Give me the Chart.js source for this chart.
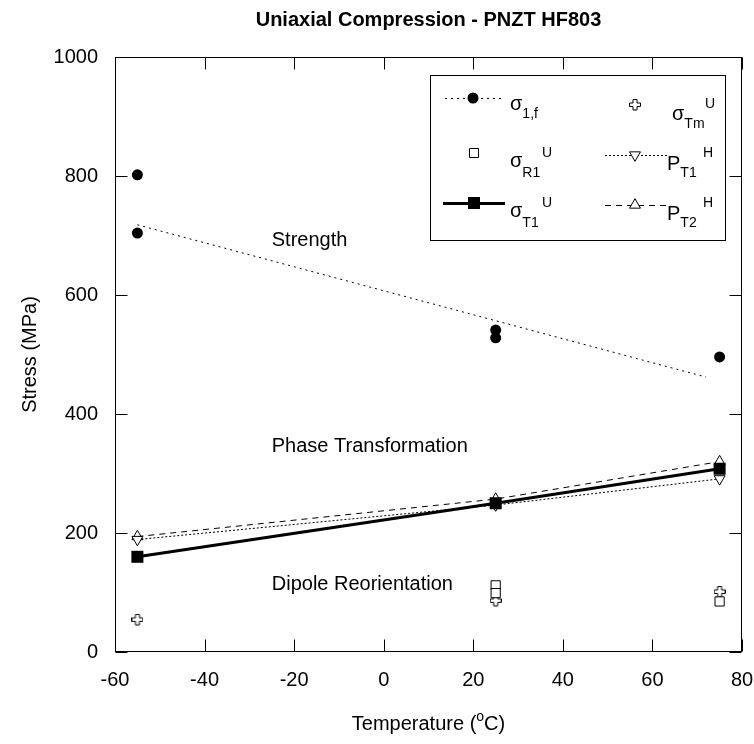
<!DOCTYPE html>
<html><head><meta charset="utf-8">
<script src="https://cdn.jsdelivr.net/npm/chart.js@4.4.0/dist/chart.umd.min.js"></script>
<style>html,body{margin:0;padding:0;background:#fff;}#wrap{width:754px;height:744px;position:relative;}</style>
</head><body><div id="wrap"><canvas id="c" width="754" height="744"></canvas></div>
<script>
// ---- data ----
const xTicks = [-60, -40, -20, 0, 20, 40, 60, 80];
const yTicks = [0, 200, 400, 600, 800, 1000];
const strengthTemps = [-55, -55, 25, 25, 75];
const strengthVals = [802, 704, 541, 528, 496];
const strengthFitTemps = [-55, 72];
const strengthFitVals = [718, 462];
const r1Temps = [25, 25, 75];
const r1Vals = [112, 99, 85];
const tmTemps = [-55, 25, 75];
const tmVals = [54, 86, 101];
const t1Temps = [-55, 25, 75];
const t1Vals = [160, 250, 308];
const pT1Temps = [-55, 25, 75];
const pT1Vals = [189, 247, 291];
const pT2Temps = [-55, 25, 75];
const pT2Vals = [194, 257, 320];
const titleText = 'Uniaxial Compression - PNZT HF803';
const yTitle = 'Stress (MPa)';
const noteTexts = ['Strength', 'Phase Transformation', 'Dipole Reorientation'];

const zip = (xs, ys) => xs.map((x, i) => ({x: x, y: ys[i]}));
const FONT = '"Liberation Sans", Arial, sans-serif';

function plusCanvas() {
  const c = document.createElement('canvas');
  c.width = 12; c.height = 12;
  const g = c.getContext('2d');
  g.translate(0.5, 0.5);
  g.beginPath();
  g.moveTo(3.5, 0); g.lineTo(7.5, 0); g.lineTo(7.5, 3.5); g.lineTo(11, 3.5); g.lineTo(11, 7); g.lineTo(7.5, 7);
  g.lineTo(7.5, 10.5); g.lineTo(3.5, 10.5); g.lineTo(3.5, 7); g.lineTo(0, 7); g.lineTo(0, 3.5); g.lineTo(3.5, 3.5);
  g.closePath();
  g.fillStyle = '#fff'; g.fill();
  g.strokeStyle = '#000'; g.lineWidth = 1; g.stroke();
  return c;
}
const PLUS = plusCanvas();

function drawMarker(ctx, type, x, y) {
  ctx.save();
  ctx.setLineDash([]);
  ctx.lineWidth = 1;
  ctx.strokeStyle = '#000';
  ctx.beginPath();
  if (type === 'circle') { ctx.arc(x, y, 5.5, 0, Math.PI * 2); ctx.fillStyle = '#000'; ctx.fill(); }
  else if (type === 'fsq') { ctx.fillStyle = '#000'; ctx.fillRect(x - 6, y - 6, 12, 12); }
  else if (type === 'osq') { ctx.fillStyle = '#fff'; ctx.rect(x - 4.5, y - 4.5, 9, 9); ctx.fill(); ctx.stroke(); }
  else if (type === 'down' || type === 'up') {
    const r = 6.3, s = type === 'down' ? -1 : 1;
    ctx.moveTo(x, y - s * r); ctx.lineTo(x - r * 0.866, y + s * r * 0.5); ctx.lineTo(x + r * 0.866, y + s * r * 0.5); ctx.closePath();
    ctx.fillStyle = '#fff'; ctx.fill(); ctx.stroke();
  } else if (type === 'plus') { ctx.drawImage(PLUS, x - 6, y - 6); }
  ctx.restore();
}

function richText(ctx, parts, x, y) {
  let cx = x;
  parts.forEach(p => {
    ctx.font = p[1] + 'px ' + FONT;
    ctx.fillText(p[0], cx, y + p[2]);
    cx += ctx.measureText(p[0]).width;
  });
}

const decor = {
  id: 'decor',
  afterDatasetsDraw(chart) {
    const ctx = chart.ctx, ca = chart.chartArea;
    const xs = chart.scales.x, ys = chart.scales.y;
    ctx.save();
    ctx.fillStyle = '#000'; ctx.strokeStyle = '#000'; ctx.lineWidth = 1; ctx.setLineDash([]);
    const L = Math.round(ca.left) + 0.5, R = Math.round(ca.right) - 0.5, T = Math.round(ca.top) + 0.5, B = Math.round(ca.bottom) - 0.5;
    ctx.strokeRect(L, T, R - L, B - T);
    const tl = 12;
    ctx.beginPath();
    xTicks.forEach(v => { const px = Math.round(xs.getPixelForValue(v)) + 0.5; ctx.moveTo(px, B); ctx.lineTo(px, B - tl); ctx.moveTo(px, T); ctx.lineTo(px, T + tl); });
    yTicks.forEach(v => { const py = Math.round(ys.getPixelForValue(v)) + 0.5; ctx.moveTo(L, py); ctx.lineTo(L + tl, py); ctx.moveTo(R, py); ctx.lineTo(R - tl, py); });
    ctx.stroke();
    // title
    ctx.textBaseline = 'middle'; ctx.textAlign = 'center';
    ctx.font = 'bold 20px ' + FONT;
    ctx.fillText(titleText, (ca.left + ca.right) / 2, 20);
    // y title
    ctx.save();
    ctx.translate(30, (ca.top + ca.bottom) / 2);
    ctx.rotate(-Math.PI / 2);
    ctx.font = '20px ' + FONT;
    ctx.fillText(yTitle, 0, 0);
    ctx.restore();
    // x title with superscript o
    ctx.textAlign = 'left'; ctx.textBaseline = 'alphabetic';
    const xparts = [['Temperature (', 20, 0], ['o', 14, -9], ['C)', 20, 0]];
    let w = 0;
    xparts.forEach(p => { ctx.font = p[1] + 'px ' + FONT; w += ctx.measureText(p[0]).width; });
    richText(ctx, xparts, (ca.left + ca.right) / 2 - w / 2, 730);
    // annotations
    ctx.font = '20px ' + FONT; ctx.textBaseline = 'middle';
    const noteX = xs.getPixelForValue(-25);
    ctx.fillText(noteTexts[0], noteX, ys.getPixelForValue(692));
    ctx.fillText(noteTexts[1], noteX, ys.getPixelForValue(346));
    ctx.fillText(noteTexts[2], noteX, ys.getPixelForValue(113));
    // legend box
    ctx.fillStyle = '#fff';
    ctx.fillRect(430, 75, 295, 165);
    ctx.strokeRect(430.5, 75.5, 295, 165);
    ctx.fillStyle = '#000';
    ctx.beginPath(); ctx.setLineDash([2, 4]); ctx.moveTo(445, 98.5); ctx.lineTo(505, 98.5); ctx.stroke();
    drawMarker(ctx, 'circle', 473, 98);
    ctx.textBaseline = 'alphabetic';
    richText(ctx, [['σ', 20, 0], ['1,f', 14, 8]], 510, 110);
    drawMarker(ctx, 'osq', 474, 153);
    richText(ctx, [['σ', 20, 0], ['R1', 14, 10]], 510, 167);
    ctx.font = '14px ' + FONT; ctx.fillText('U', 542, 157);
    ctx.beginPath(); ctx.setLineDash([]); ctx.lineWidth = 3; ctx.moveTo(443, 203.5); ctx.lineTo(505, 203.5); ctx.stroke(); ctx.lineWidth = 1;
    drawMarker(ctx, 'fsq', 474, 203);
    richText(ctx, [['σ', 20, 0], ['T1', 14, 10]], 510, 217);
    ctx.font = '14px ' + FONT; ctx.fillText('U', 542, 207);
    drawMarker(ctx, 'plus', 635, 105);
    richText(ctx, [['σ', 20, 0], ['Tm', 14, 8]], 672, 120);
    ctx.font = '14px ' + FONT; ctx.fillText('U', 705, 108);
    ctx.beginPath(); ctx.setLineDash([2, 2]); ctx.moveTo(605, 155.5); ctx.lineTo(667, 155.5); ctx.stroke(); ctx.setLineDash([]);
    drawMarker(ctx, 'down', 635, 155);
    richText(ctx, [['P', 20, 0], ['T1', 14, 7]], 667, 170);
    ctx.font = '14px ' + FONT; ctx.fillText('H', 703, 157);
    ctx.beginPath(); ctx.setLineDash([6, 5]); ctx.moveTo(605, 205.5); ctx.lineTo(667, 205.5); ctx.stroke(); ctx.setLineDash([]);
    drawMarker(ctx, 'up', 635, 205);
    richText(ctx, [['P', 20, 0], ['T2', 14, 7]], 667, 220);
    ctx.font = '14px ' + FONT; ctx.fillText('H', 703, 207);
    ctx.restore();
  }
};

const tickFont = {family: FONT, size: 20};
new Chart(document.getElementById('c'), {
  type: 'scatter',
  data: {
    datasets: [
      {label: 'fit', data: zip(strengthFitTemps, strengthFitVals), showLine: true, borderColor: '#000', borderWidth: 1, borderDash: [2, 4], pointRadius: 0},
      {label: 'σ1,f', data: zip(strengthTemps, strengthVals), showLine: false, pointStyle: 'circle', pointRadius: 5.5, backgroundColor: '#000', borderColor: '#000', borderWidth: 0},
      {label: 'σT1U', data: zip(t1Temps, t1Vals), showLine: true, borderColor: '#000', borderWidth: 3, pointStyle: 'rect', pointRadius: 8.5, backgroundColor: '#000', pointBorderWidth: 0},
      {label: 'PT1H', data: zip(pT1Temps, pT1Vals), showLine: true, borderColor: '#000', borderWidth: 1, borderDash: [2, 2], pointStyle: 'triangle', pointRotation: 180, pointRadius: 6.3, backgroundColor: '#fff', pointBorderWidth: 1},
      {label: 'PT2H', data: zip(pT2Temps, pT2Vals), showLine: true, borderColor: '#000', borderWidth: 1, borderDash: [6, 5], pointStyle: 'triangle', pointRadius: 6.3, backgroundColor: '#fff', pointBorderWidth: 1},
      {label: 'σR1U', data: zip(r1Temps, r1Vals), showLine: false, pointStyle: 'rect', pointRadius: 6.5, backgroundColor: '#fff', borderColor: '#000', borderWidth: 1},
      {label: 'σTmU', data: zip(tmTemps, tmVals), showLine: false, pointStyle: PLUS, pointRadius: 6}
    ]
  },
  options: {
    responsive: false, animation: false, events: [],
    layout: {padding: {left: 53, right: 12, top: 57, bottom: 52}},
    plugins: {legend: {display: false}, tooltip: {enabled: false}, title: {display: false}},
    scales: {
      x: {type: 'linear', min: -60, max: 80,
        afterBuildTicks: s => { s.ticks = xTicks.map(v => ({value: v})); },
        afterFit: s => { s.height = 40; s.paddingLeft = 0; s.paddingRight = 0; },
        ticks: {font: tickFont, color: '#000', padding: 16, maxRotation: 0, callback: v => String(v)},
        grid: {display: false, drawTicks: false}, border: {display: false}},
      y: {type: 'linear', min: 0, max: 1000,
        afterBuildTicks: s => { s.ticks = yTicks.map(v => ({value: v})); },
        afterFit: s => { s.width = 62; s.paddingTop = 0; s.paddingBottom = 0; },
        ticks: {font: tickFont, color: '#000', padding: 17, callback: v => String(v)},
        grid: {display: false, drawTicks: false}, border: {display: false}}
    }
  },
  plugins: [decor]
});
</script></body></html>
